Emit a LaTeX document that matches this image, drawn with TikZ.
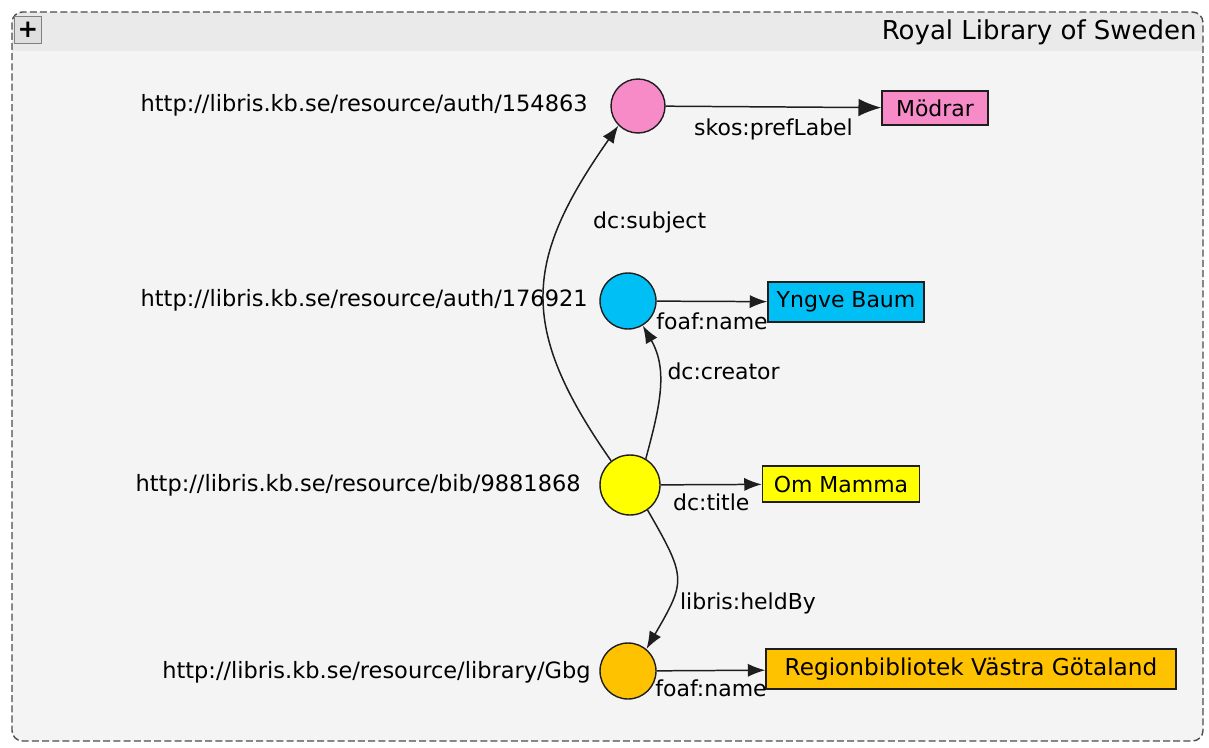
\documentclass[tikz,border=0pt]{standalone}
\usepackage{fontspec}
\setmainfont{DejaVu Sans}
\usetikzlibrary{shapes, arrows.meta}

\definecolor{respink}{HTML}{F78BC8}
\definecolor{resblue}{HTML}{00BFF5}
\definecolor{resyellow}{HTML}{FFFF00}
\definecolor{resorange}{HTML}{FFC200}
\definecolor{panelbg}{HTML}{F4F4F4}
\definecolor{headbg}{HTML}{EAEAEA}
\definecolor{inkgray}{HTML}{1E1E1E}

\tikzstyle{rcell} = [circle, draw=inkgray, line width=0.8pt, minimum size=1.12cm, inner sep=0pt]
\tikzstyle{lcell} = [rectangle, draw=inkgray, line width=0.8pt, text centered, minimum height=0.8cm, inner sep=0pt]
\tikzstyle{uri} = [anchor=east, inner sep=0pt, font=\fontsize{12.8}{15}\selectfont]
\tikzstyle{line} = [draw=inkgray, line width=0.85pt, -{Latex[length=10pt, width=7.5pt]}]
\tikzstyle{plusbox} = [rectangle, draw=gray, fill=gray!25, minimum size=0.54cm, inner sep=0pt, font=\bfseries\fontsize{14}{14}\selectfont]

\begin{document}
\begin{tikzpicture}[x=0.02cm, y=-0.02cm, font=\fontsize{12.5}{15}\selectfont]
    \useasboundingbox (0,0) rectangle (1209,747);
    % panel and header
    \fill[white] (0,0) rectangle (1209,747);
    \fill[panelbg, rounded corners=6pt] (12,12) rectangle (1203,741);
    \fill[headbg, rounded corners=6pt] (12,12) rectangle (1203,62);
    \fill[panelbg] (13,51) rectangle (1202,64);
    \draw[gray!60!black, line width=0.8pt, dash pattern=on 4pt off 1.8pt, rounded corners=6pt] (12,12) rectangle (1203,741);
    \node[plusbox](plus) at (28,30) {+};
    \node[anchor=east, inner sep=0pt, font=\fontsize{14.8}{17}\selectfont](panelname) at (1197,32) {Royal Library of Sweden};

    % resources
    \node[uri](uriauthA) at (588,105) {http://libris.kb.se/resource/auth/154863};
    \node[uri](uriauthB) at (588,300) {http://libris.kb.se/resource/auth/176921};
    \node[uri](uribib) at (581,485) {http://libris.kb.se/resource/bib/9881868};
    \node[uri](urilib) at (591,672) {http://libris.kb.se/resource/library/Gbg};

    \node[rcell, fill=respink, minimum size=1.08cm](subject) at (638,106) {};
    \node[rcell, fill=resblue](creator) at (628,301) {};
    \node[rcell, fill=resyellow, minimum size=1.2cm](book) at (630,485) {};
    \node[rcell, fill=resorange](library) at (628,671) {};

    % literals
    \node[lcell, fill=respink, minimum width=2.12cm, minimum height=0.68cm](modrar) at (935,108) {Mödrar};
    \node[lcell, fill=resblue, minimum width=3.12cm](baum) at (846,302) {Yngve Baum};
    \node[lcell, fill=resyellow, minimum width=3.14cm, minimum height=0.72cm](bktitle) at (841,484) {Om Mamma};
    \node[lcell, fill=resorange, minimum width=8.2cm, font=\fontsize{13.2}{15}\selectfont](libname) at (971,669) {Regionbibliotek Västra Götaland};

    \path[line, -{Latex[length=13pt, width=10pt]}] (subject) -- node[below=0.1cm] {skos:prefLabel} (modrar);
    \path[line] (creator) -- node[below=0.1cm] {foaf:name} (baum);
    \path[line] (book) -- node[below=0.05cm] {dc:title} (bktitle);
    \path[line] (library) -- node[below=0.05cm] {foaf:name} (libname);

    \path[line] (book.128) to[out=125, in=235, looseness=1.25] node[pos=0.73, right=0.5cm] {dc:subject} (subject.225);
    \path[line] (book.59) to[out=75, in=-60] node[pos=0.65, right=0.05cm] {dc:creator} (creator.-59);
    \path[line] (book.-55) to[out=-60, in=60, looseness=1.45] node[pos=0.71, right=0.05cm] {libris:heldBy} (library.50);
\end{tikzpicture}
\end{document}
